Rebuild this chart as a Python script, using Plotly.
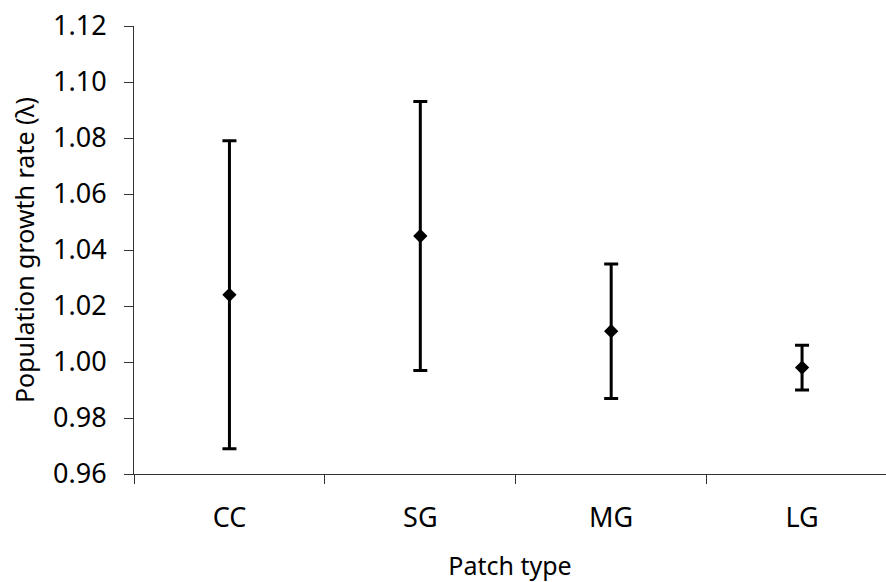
import plotly.graph_objects as go

# Mean population growth rate (lambda) per patch type, with CI limits
patch_types = ["CC", "SG", "MG", "LG"]
lambda_mean = [1.024, 1.045, 1.011, 0.998]
lambda_upper = [1.079, 1.093, 1.035, 1.006]
lambda_lower = [0.969, 0.997, 0.987, 0.990]

err_plus = [u - m for u, m in zip(lambda_upper, lambda_mean)]
err_minus = [m - l for m, l in zip(lambda_mean, lambda_lower)]

FONT = "Noto Sans, DejaVu Sans, sans-serif"

fig = go.Figure(
    go.Scatter(
        x=patch_types,
        y=lambda_mean,
        mode="markers",
        marker=dict(symbol="diamond", size=11, color="black", line=dict(width=0)),
        error_y=dict(
            type="data",
            symmetric=False,
            array=err_plus,
            arrayminus=err_minus,
            color="black",
            thickness=3,
            width=7,
        ),
        showlegend=False,
    )
)

fig.update_layout(
    width=886,
    height=582,
    margin=dict(l=133.5, r=0, t=26, b=107.5),
    paper_bgcolor="white",
    plot_bgcolor="white",
    font=dict(family=FONT, size=27, color="black"),
)

fig.update_xaxes(
    type="category",
    range=[-0.5, -0.5 + 752.5 / 191],
    showline=True,
    linecolor="#333333",
    linewidth=1,
    ticks="outside",
    tickson="boundaries",
    ticklen=9,
    tickcolor="#333333",
    showgrid=False,
    zeroline=False,
    ticklabelstandoff=20,
    title=dict(text="Patch type", standoff=24, font=dict(size=25)),
)

fig.update_yaxes(
    range=[0.96, 1.12],
    dtick=0.02,
    tick0=0.96,
    tickformat=".2f",
    showline=True,
    linecolor="#333333",
    linewidth=1,
    ticks="outside",
    ticklen=9,
    tickcolor="#333333",
    showgrid=False,
    zeroline=False,
    ticklabelstandoff=12,
    title=dict(text="Population growth rate (λ)", standoff=11, font=dict(size=25)),
)

fig.write_html("out.html")
